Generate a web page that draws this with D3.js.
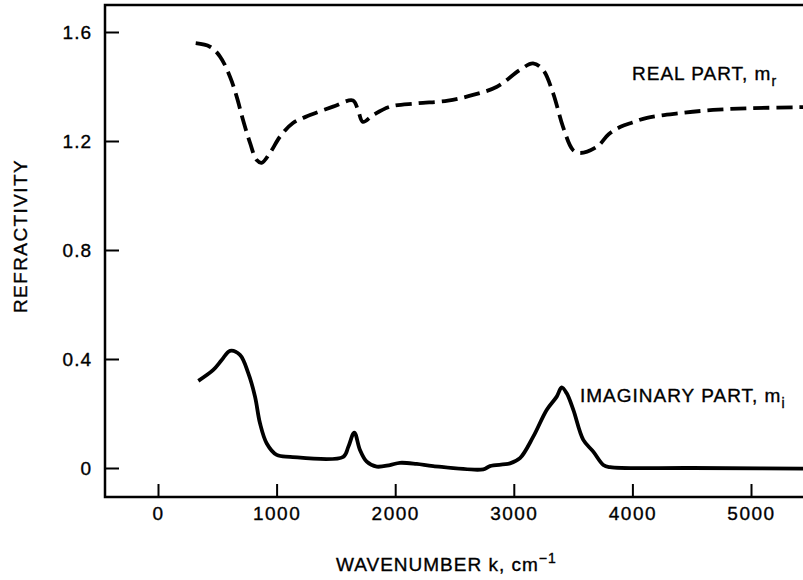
<!DOCTYPE html>
<html lang="en">
<head>
<meta charset="utf-8">
<title>Refractivity vs wavenumber</title>
<script src="https://cdn.jsdelivr.net/npm/d3@7"></script>
<style>
  body { margin: 0; background: #fff; }
  svg text { font-family: "Liberation Sans", Arial, sans-serif; fill: #000; stroke: #000; stroke-width: 0.35px; }
</style>
</head>
<body>
<svg width="803" height="580"></svg>
<script>
// wavenumber ticks and refractivity ticks
var xTicks = [0, 1000, 2000, 3000, 4000, 5000];
var yTicks = [0, 0.4, 0.8, 1.2, 1.6];

// real part m_r (dashed curve)
var realK = [318, 438, 523, 607, 664, 717, 776, 832, 874, 944, 1029, 1138, 1282, 1476, 1644, 1686, 1728,
  1813, 1956, 2181, 2445, 2656, 2858, 3052, 3162, 3246, 3331, 3415, 3499, 3558, 3702, 3800, 3900,
  4000, 4123, 4401, 4680, 4966, 5413, 5800];
var realM = [1.559, 1.546, 1.510, 1.436, 1.362, 1.277, 1.193, 1.130, 1.120, 1.156, 1.216, 1.266, 1.295, 1.326, 1.349, 1.314, 1.270,
  1.295, 1.326, 1.338, 1.348, 1.369, 1.399, 1.461, 1.485, 1.461, 1.376, 1.252, 1.167, 1.156, 1.179, 1.225, 1.252,
  1.268, 1.285, 1.302, 1.314, 1.320, 1.324, 1.326];

// imaginary part m_i (solid curve)
var imagK = [340, 466, 537, 607, 691, 761, 818, 860, 917, 1001, 1113, 1562, 1605, 1655, 1703, 1760, 1844,
  1956, 2040, 2181, 2321, 2743, 2799, 2968, 3052, 3164, 3277, 3362, 3404, 3446, 3502, 3586, 3670,
  3755, 3811, 4500, 5800];
var imagM = [0.320, 0.360, 0.396, 0.430, 0.415, 0.348, 0.262, 0.164, 0.090, 0.048, 0.041, 0.041, 0.078, 0.130, 0.066, 0.023, 0.005,
  0.011, 0.019, 0.015, 0.007, -0.005, 0.007, 0.017, 0.036, 0.115, 0.213, 0.262, 0.296, 0.274, 0.213, 0.103, 0.060,
  0.011, 0.003, 0.0, -0.003];

var margin = {top: 5, left: 105},
    width = 760,
    height = 492;

var x = d3.scaleLinear().domain([0, 5000]).range([53, 646]);
var y = d3.scaleLinear().domain([0, 1.6]).range([463, 27]);

var svg = d3.select("svg")
  .append("g")
    .attr("transform", "translate(" + margin.left + "," + margin.top + ")");

// frame: left, top and bottom lines (right side runs off the page)
svg.append("path")
    .attr("d", "M" + width + ",0H0V" + height + "H" + width)
    .attr("fill", "none")
    .attr("stroke", "#000")
    .attr("stroke-width", 2.5);

// x axis, ticks pointing inward
var xAxis = d3.axisBottom(x)
    .tickValues(xTicks)
    .tickSizeInner(-13)
    .tickSizeOuter(0)
    .tickPadding(10)
    .tickFormat(d3.format("d"));

var gx = svg.append("g")
    .attr("transform", "translate(0," + height + ")")
    .call(xAxis);
gx.select(".domain").remove();
gx.selectAll("line").attr("stroke-width", 2);
gx.selectAll("text")
    .attr("font-size", 19)
    .attr("letter-spacing", 1.5)
    .attr("font-family", "Liberation Sans, Arial, sans-serif");

// y axis
var yAxis = d3.axisLeft(y)
    .tickValues(yTicks)
    .tickSizeInner(-14)
    .tickSizeOuter(0)
    .tickPadding(13)
    .tickFormat(function(d) { return d === 0 ? "0" : d3.format(".1f")(d); });

var gy = svg.append("g").call(yAxis);
gy.select(".domain").remove();
gy.selectAll("line").attr("stroke-width", 2);
gy.selectAll("text")
    .attr("font-size", 19)
    .attr("letter-spacing", 1)
    .attr("font-family", "Liberation Sans, Arial, sans-serif");

// curves
var line = d3.line()
    .x(function(d) { return x(d[0]); })
    .y(function(d) { return y(d[1]); })
    .curve(d3.curveCatmullRom.alpha(0.5));

var realData = d3.zip(realK, realM);
var imagData = d3.zip(imagK, imagM);

svg.append("clipPath").attr("id", "clip")
  .append("rect").attr("width", width).attr("height", height);

svg.append("path")
    .datum(realData)
    .attr("clip-path", "url(#clip)")
    .attr("d", line)
    .attr("fill", "none")
    .attr("stroke", "#000")
    .attr("stroke-width", 3.8)
    .attr("stroke-dasharray", "16,7");

svg.append("path")
    .datum(imagData)
    .attr("clip-path", "url(#clip)")
    .attr("d", line)
    .attr("fill", "none")
    .attr("stroke", "#000")
    .attr("stroke-width", 3.8)
    .attr("stroke-linejoin", "round");

// curve labels
var real = svg.append("text")
    .attr("x", 527).attr("y", 75)
    .attr("font-size", 19).attr("letter-spacing", 1);
real.append("tspan").text("REAL PART, m");
real.append("tspan").attr("font-size", 14).attr("dy", 6).text("r");

var imag = svg.append("text")
    .attr("x", 475).attr("y", 397)
    .attr("font-size", 19).attr("letter-spacing", 1);
imag.append("tspan").text("IMAGINARY PART, m");
imag.append("tspan").attr("font-size", 14).attr("dy", 6).text("i");

// axis titles
svg.append("text")
    .attr("transform", "translate(-78," + (236 - margin.top) + ") rotate(-90)")
    .attr("text-anchor", "middle")
    .attr("font-size", 19)
    .attr("letter-spacing", 1.4)
    .text("REFRACTIVITY");

var xt = svg.append("text")
    .attr("x", 231).attr("y", 566)
    .attr("font-size", 19).attr("letter-spacing", 1);
xt.append("tspan").text("WAVENUMBER k, cm");
xt.append("tspan").attr("font-size", 14).attr("dy", -8).text("\u22121");
</script>
</body>
</html>
